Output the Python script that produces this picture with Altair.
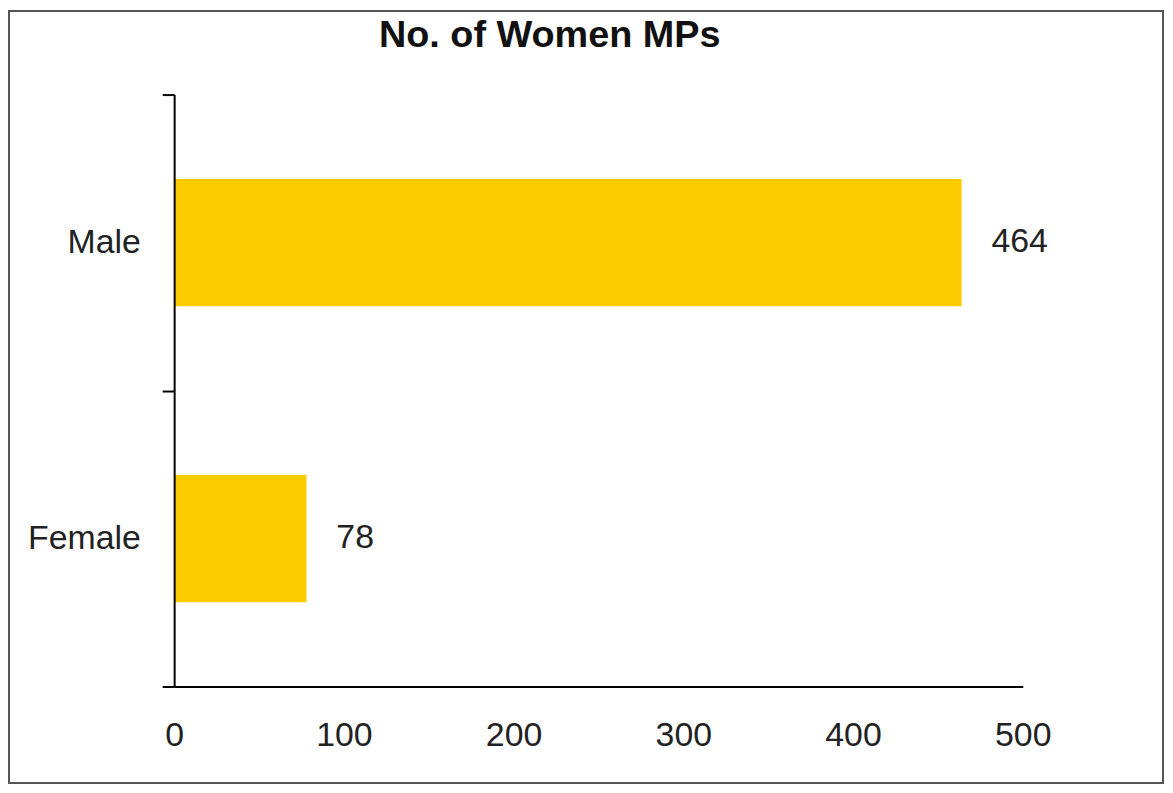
import altair as alt
import pandas as pd

categories = ["Male", "Female"]
counts = [464, 78]
x_ticks = [0, 100, 200, 300, 400, 500]
title_text = "No. of Women MPs"

df = pd.DataFrame({"gender": categories, "count": counts})
FONT = "Liberation Sans"
FS = 34

y_enc = alt.Y(
    "gender:N",
    sort=categories,
    scale=alt.Scale(paddingInner=0, paddingOuter=0),
    axis=alt.Axis(
        title=None, tickBand="extent", tickSize=12, tickWidth=2, tickColor="black",
        domainColor="black", domainWidth=2, labelFont=FONT, labelFontSize=FS,
        labelColor="#222222", labelPadding=22, zindex=1,
    ),
)
x_enc = alt.X(
    "count:Q",
    scale=alt.Scale(domain=[0, 500]),
    axis=alt.Axis(
        values=x_ticks, title=None, ticks=False, grid=False, domainColor="black",
        domainWidth=2, labelFont=FONT, labelFontSize=FS, labelColor="#222222",
        labelPadding=32, labelFlush=False, zindex=1,
    ),
)

base = alt.Chart(df)
bars = base.mark_bar(color="#FCCC00", size=128).encode(y=y_enc, x=x_enc)
labels = base.mark_text(align="left", baseline="middle", dx=30, font=FONT, fontSize=FS, color="#222222").encode(
    y=alt.Y("gender:N", sort=categories), x="count:Q", text="count:Q"
)
frame = alt.Chart(alt.Data(values=[{}])).mark_rect(fill=None, stroke="#555555", strokeWidth=2).encode(
    x=alt.value(-166), x2=alt.value(994), y=alt.value(-84), y2=alt.value(692)
)

chart = alt.layer(frame, bars, labels).properties(
    width=853,
    height=595,
    title=alt.TitleParams(
        title_text, font=FONT, fontSize=38, fontWeight="bold", anchor="middle",
        frame="group", baseline="top", dx=-49, offset=-45, color="#111111",
    ),
    autosize=alt.AutoSizeParams(type="none"),
    padding={"left": 167, "top": 85, "right": 143, "bottom": 98},
).configure_view(stroke=None)

chart.save("out.html", embed_options={"renderer": "svg", "actions": False})
